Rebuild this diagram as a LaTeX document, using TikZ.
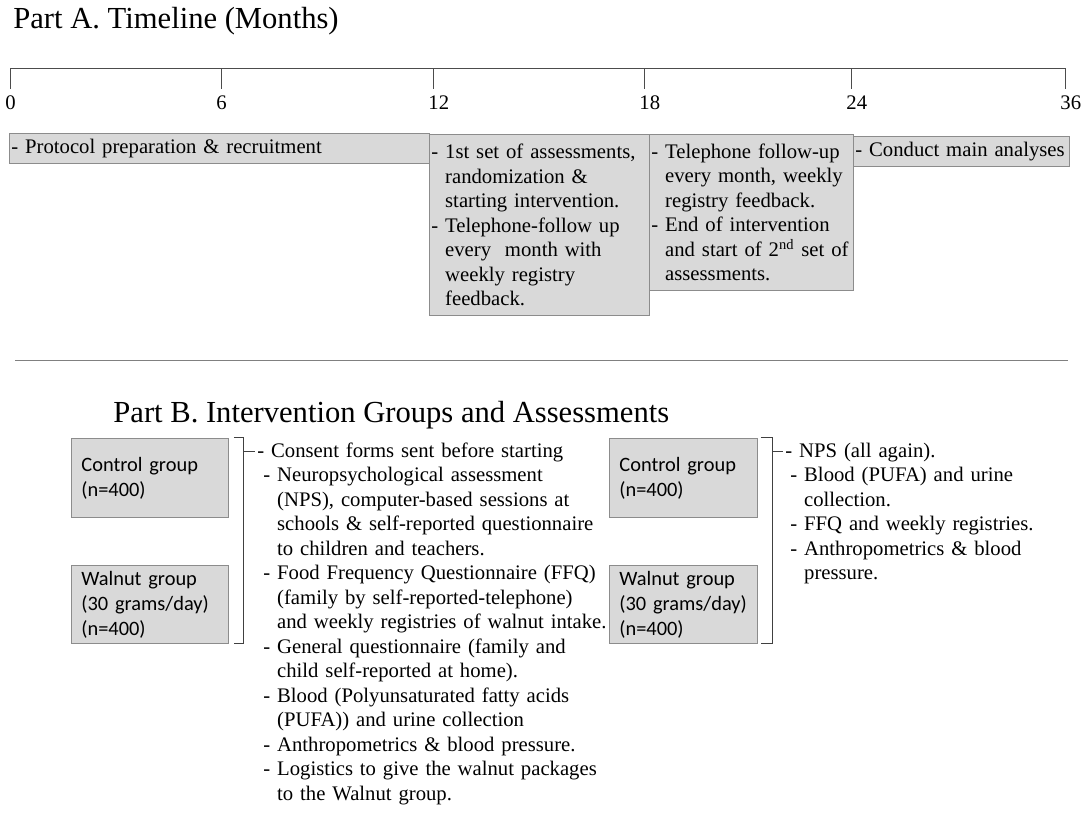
\documentclass[tikz,border=0pt]{standalone}
\usepackage{fontspec}
\setmainfont{Liberation Serif}
\newfontfamily\grpfont{Carlito}
\usetikzlibrary{calc}

\newcommand\txtsize{\fontsize{10.35pt}{12.25pt}\selectfont}
\newcommand\ttlsize{\fontsize{15.3pt}{18pt}\selectfont}
\newcommand\ind{\phantom{-\ }}
\hyphenpenalty=10000

\begin{document}
\begin{tikzpicture}[x=0.5pt, y=-0.5pt,
    tlbox/.style={draw=black!45, fill=black!15, anchor=north west, align=left,
      inner xsep=1pt, inner ysep=0pt, font=\txtsize},
    grpbox/.style={draw=black!45, fill=black!15, anchor=north west, align=left,
      inner xsep=5pt, inner ysep=0pt, font=\grpfont\fontsize{10.2pt}{12.5pt}\selectfont},
    lst/.style={anchor=base west, align=left, inner sep=0pt, font=\txtsize},
    ttl/.style={anchor=base west, inner sep=0pt, font=\ttlsize}]
  \useasboundingbox (0,0) rectangle (1084,816);

  % Part A: timeline
  \node[ttl] (ttlA) at (13,28) {Part A. Timeline (Months)};
  \draw [black!70] (10,68) -- (1066,68);
  \foreach \x/\m in {10/0, 221/6, 433/12, 644/18, 851/24, 1065/36}
    \draw [black!70] (\x,68) -- (\x,89) node[anchor=north west, text=black, inner xsep=0pt, inner ysep=3pt, xshift=-2.5pt, font=\txtsize] (m\m) {\m};

  \node[tlbox, text width=208pt, minimum height=15pt] (prep) at (9,133)
    {- Protocol preparation \& recruitment};
  \node[tlbox, text width=108pt, minimum height=90.5pt] (first) at (429,134)
    {- 1st set of assessments,\\ \ind randomization \&\\ \ind starting intervention.\\
     - Telephone-follow up\\ \ind every\ \ month with\\ \ind weekly registry\\ \ind feedback.};
  \node[tlbox, text width=100pt, minimum height=78pt] (second) at (649,134)
    {- Telephone follow-up\\ \ind every month, weekly\\ \ind registry feedback.\\
     - End of intervention\\ \ind and start of 2\textsuperscript{nd} set of\\ \ind assessments.};
  \node[tlbox, text width=106pt, minimum height=15pt] (anal) at (853,136)
    {- Conduct main analyses};

  \draw [black!50] (15,360) -- (1068,360);

  % Part B: groups
  \node[ttl] (ttlB) at (113,422) {Part B. Intervention Groups and Assessments};

  \node[grpbox, text width=68.5pt, minimum height=39.5pt] (ctlL) at (71,438) {Control group\\(n=400)};
  \node[grpbox, text width=68.5pt, minimum height=39pt] (walL) at (71,565) {Walnut group\\(30 grams/day)\\(n=400)};
  \node[grpbox, text width=64pt, minimum height=39.5pt] (ctlR) at (609,438) {Control group\\(n=400)};
  \node[grpbox, text width=64pt, minimum height=39pt] (walR) at (609,565) {Walnut group\\(30 grams/day)\\(n=400)};

  \node[lst, text width=190pt] (lstL) at (263,457)
    {\hspace*{-3pt}- Consent forms sent before starting\\
     - Neuropsychological assessment\\ \ind (NPS), computer-based sessions at\\
     \ind schools \& self-reported questionnaire\\ \ind to children and teachers.\\
     - Food Frequency Questionnaire (FFQ)\\ \ind (family by self-reported-telephone)\\
     \ind and weekly registries of walnut intake.\\
     - General questionnaire (family and\\ \ind child self-reported at home).\\
     - Blood (Polyunsaturated fatty acids\\ \ind (PUFA)) and urine collection\\
     - Anthropometrics \& blood pressure.\\
     - Logistics to give the walnut packages\\ \ind to the Walnut group.};
  \node[lst, text width=140pt] (lstR) at (790,457)
    {\hspace*{-2.5pt}- NPS (all again).\\
     - Blood (PUFA) and urine\\ \ind collection.\\
     - FFQ and weekly registries.\\
     - Anthropometrics \& blood\\ \ind pressure.};

  % brackets
  \draw [black!75] ($(ctlL.north east)+(5,-1)$) -- ++(10,0) coordinate (brL) |- ($(walL.south east)+(5,0)$);
  \draw [black!75] ($(ctlR.north east)+(3,-1)$) -- ++(12,0) coordinate (brR) |- ($(walR.south east)+(3,0)$);
  \coordinate (tipL) at ($(lstL.base west)+(-8,-6)$);
  \coordinate (tipR) at ($(lstR.base west)+(-7,-6)$);
  \draw [black!75] (brL |- tipL) -- (tipL);
  \draw [black!75] (brR |- tipR) -- (tipR);
\end{tikzpicture}
\end{document}
